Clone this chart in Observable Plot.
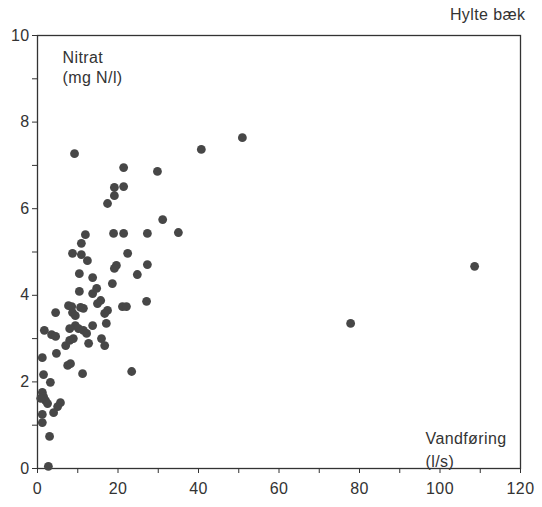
<!DOCTYPE html>
<html>
<head>
<meta charset="utf-8">
<script src="https://cdn.jsdelivr.net/npm/d3@7"></script>
<script src="https://cdn.jsdelivr.net/npm/@observablehq/plot@0.6"></script>
<style>
  html, body { margin: 0; padding: 0; background: #fff; }
  #chart svg { display: block; }
  #chart svg text { letter-spacing: 0.4px; }
</style>
</head>
<body>
<div id="chart"></div>
<script>
// Water flow (l/s) and nitrate concentration (mg N/l) per sample, Hylte bæk
const flow = [
  9.2, 21.4, 29.8, 40.7, 50.9, 19.1, 19.1, 21.4, 17.4, 31.1,
  11.9, 18.9, 21.4, 27.3, 35.0, 10.9, 8.7, 10.9, 12.4, 22.4,
  19.6, 19.1, 27.3, 10.4, 13.7, 24.8, 18.6, 10.4, 13.7, 14.7,
  15.7, 14.9, 7.7, 8.5, 10.7, 11.4, 8.7, 9.4, 4.5, 21.1,
  22.1, 27.1, 17.4, 16.7, 1.7, 3.5, 4.5, 9.4, 8.0, 10.2,
  11.4, 12.2, 13.7, 17.1, 7.0, 8.0, 8.9, 12.7, 15.9, 16.7,
  4.7, 1.2, 7.5, 8.2, 11.2, 1.5, 3.2, 23.4, 1.2, 1.5,
  2.0, 2.5, 0.8, 5.7, 5.0, 4.0, 1.2, 1.2, 3.0, 2.7,
  108.6, 77.8
];
const nitrate = [
  7.27, 6.95, 6.86, 7.37, 7.64, 6.49, 6.30, 6.51, 6.12, 5.75,
  5.40, 5.43, 5.43, 5.43, 5.45, 5.20, 4.97, 4.94, 4.80, 4.97,
  4.69, 4.62, 4.71, 4.50, 4.41, 4.48, 4.27, 4.09, 4.04, 4.16,
  3.88, 3.81, 3.76, 3.74, 3.72, 3.70, 3.60, 3.53, 3.60, 3.74,
  3.74, 3.86, 3.65, 3.58, 3.19, 3.09, 3.05, 3.30, 3.23, 3.23,
  3.19, 3.12, 3.30, 3.35, 2.84, 2.96, 3.00, 2.89, 3.00, 2.84,
  2.66, 2.56, 2.38, 2.42, 2.19, 2.17, 1.99, 2.24, 1.76, 1.66,
  1.57, 1.50, 1.62, 1.52, 1.43, 1.29, 1.25, 1.06, 0.74, 0.05,
  4.67, 3.35
];

// Axis ticks: minor every step, labels on the major values only
const xTicks = [0, 10, 20, 30, 40, 50, 60, 70, 80, 90, 100, 110, 120];
const xLabels = [0, 20, 40, 60, 80, 100, 120];
const yTicks = [0, 1, 2, 3, 4, 5, 6, 7, 8, 9, 10];
const yLabels = [0, 2, 4, 6, 8, 10];

const title = "Hylte bæk";
const yTitle = ["Nitrat", "(mg N/l)"];
const xTitle = ["Vandføring", "(l/s)"];

const samples = flow.map((q, i) => ({ flow: q, nitrate: nitrate[i] }));
const ink = "#333";

const chart = Plot.plot({
  width: 542,
  height: 507,
  marginLeft: 37,
  marginRight: 22,
  marginTop: 35,
  marginBottom: 39,
  style: { fontFamily: "'Liberation Sans', Arial, sans-serif", fontSize: "16px", color: ink, background: "#fff" },
  x: { domain: [0, 120] },
  y: { domain: [0, 10] },
  marks: [
    Plot.frame({ stroke: ink, strokeWidth: 1.3 }),
    Plot.axisX({
      ticks: xTicks,
      tickSize: 5,
      tickPadding: 9,
      label: null,
      fontSize: 16,
      tickFormat: d => xLabels.includes(d) ? String(d) : ""
    }),
    Plot.axisY({
      ticks: yTicks,
      tickSize: 5,
      tickPadding: 3,
      label: null,
      fontSize: 16,
      tickFormat: d => yLabels.includes(d) ? String(d) : ""
    }),
    Plot.dot(samples, { x: "flow", y: "nitrate", r: 4.4, fill: "#474747", stroke: "none" }),
    Plot.text([yTitle.join("\n")], {
      frameAnchor: "top-left", dx: 25, dy: 13, textAnchor: "start", lineAnchor: "top",
      lineHeight: 1.25, fontSize: 16, fill: ink
    }),
    Plot.text([xTitle.join("\n")], {
      frameAnchor: "bottom-left", dx: 388, dy: -2, textAnchor: "start", lineAnchor: "bottom",
      lineHeight: 1.4, fontSize: 16, fill: ink
    }),
    Plot.text([title], {
      frameAnchor: "top-right", dx: 5, dy: -27, textAnchor: "end", lineAnchor: "top",
      fontSize: 16, fill: ink
    })
  ]
});

document.getElementById("chart").appendChild(chart);
</script>
</body>
</html>
